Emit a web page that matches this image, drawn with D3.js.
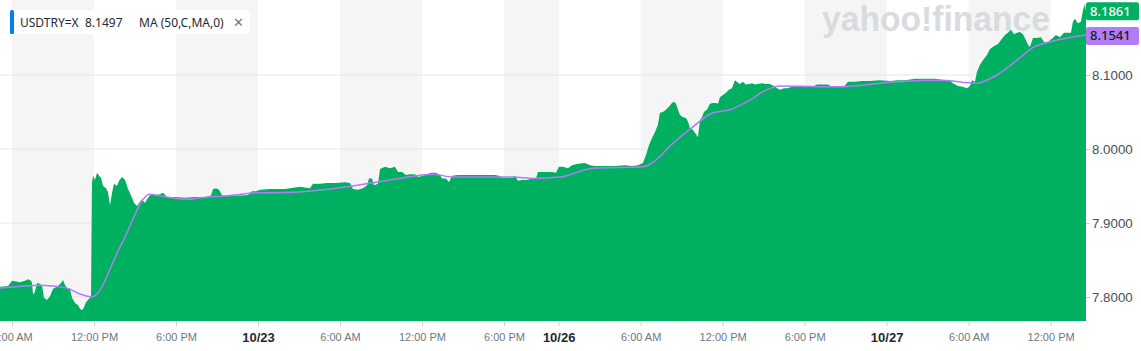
<!DOCTYPE html>
<html>
<head>
<meta charset="utf-8">
<script src="https://d3js.org/d3.v7.min.js"></script>
<style>
  body { margin: 0; background: #fff; }
  svg { display: block; font-family: "Noto Sans", "Open Sans", sans-serif; }
</style>
</head>
<body>
<svg id="chart" width="1141" height="351"></svg>
<script>
// trading hours counted from 10/22 6:00 AM (weekend gap removed)
const tickHours = [0, 6, 12, 18, 24, 30, 36, 40, 46, 52, 58, 64, 70, 76];
const tickLabels = ["6:00 AM", "12:00 PM", "6:00 PM", "10/23", "6:00 AM", "12:00 PM", "6:00 PM",
                    "10/26", "6:00 AM", "12:00 PM", "6:00 PM", "10/27", "6:00 AM", "12:00 PM"];
const dateLabels = ["10/23", "10/26", "10/27"];
const yTicks = [7.8, 7.9, 8.0, 8.1];

// [hour, price]
const price = [
  [-0.88,7.814],[-0.29,7.815],[0.00,7.822],[0.59,7.820],[0.95,7.822],[1.17,7.824],[1.39,7.822],[1.46,7.819],
  [1.54,7.803],[1.68,7.807],[1.83,7.819],[2.05,7.818],[2.20,7.815],[2.34,7.799],[2.56,7.796],[2.78,7.801],
  [3.00,7.811],[3.29,7.814],[3.59,7.819],[3.73,7.823],[3.88,7.816],[4.10,7.810],[4.24,7.811],[4.39,7.799],
  [4.61,7.792],[4.83,7.789],[4.98,7.784],[5.12,7.782],[5.27,7.786],[5.41,7.793],[5.56,7.796],[5.71,7.799],
  [5.78,7.801],[5.85,7.954],[5.93,7.964],[6.07,7.958],[6.22,7.968],[6.37,7.964],[6.51,7.961],[6.66,7.950],
  [6.88,7.947],[7.02,7.942],[7.17,7.924],[7.32,7.941],[7.46,7.953],[7.68,7.950],[7.83,7.957],[8.05,7.962],
  [8.27,7.958],[8.49,7.946],[8.71,7.937],[8.93,7.927],[9.15,7.923],[9.29,7.927],[9.51,7.932],[9.73,7.927],
  [9.95,7.934],[10.17,7.939],[10.46,7.938],[10.83,7.939],[11.05,7.941],[11.34,7.935],[11.93,7.935],[12.66,7.934],
  [13.39,7.935],[14.12,7.935],[14.56,7.937],[14.71,7.946],[14.93,7.947],[15.15,7.945],[15.37,7.937],[15.95,7.937],
  [16.68,7.937],[17.27,7.938],[17.56,7.943],[17.85,7.943],[18.15,7.945],[18.88,7.946],[19.61,7.946],[19.98,7.946],
  [20.34,7.947],[21.07,7.949],[21.80,7.947],[22.02,7.953],[22.54,7.953],[23.05,7.954],[23.63,7.954],[24.37,7.955],
  [24.73,7.954],[24.95,7.946],[25.32,7.945],[25.68,7.947],[25.98,7.951],[26.12,7.960],[26.34,7.960],[26.49,7.951],
  [26.78,7.953],[26.93,7.973],[27.29,7.976],[27.66,7.974],[28.02,7.976],[28.24,7.969],[28.54,7.969],[28.83,7.965],
  [29.12,7.966],[29.49,7.966],[29.71,7.962],[30.07,7.964],[30.37,7.966],[30.66,7.968],[31.02,7.968],[31.32,7.965],
  [31.46,7.960],[31.76,7.960],[31.98,7.955],[32.19,7.964],[32.63,7.965],[33.15,7.965],[33.66,7.965],[34.24,7.965],
  [34.83,7.965],[35.34,7.965],[35.63,7.964],[35.85,7.961],[36.29,7.961],[36.59,7.961],[36.81,7.964],[37.02,7.957],
  [37.32,7.958],[37.68,7.958],[38.05,7.960],[38.34,7.960],[38.49,7.969],[39.00,7.969],[39.51,7.969],[39.81,7.968],
  [40.02,7.976],[40.32,7.976],[40.68,7.974],[40.98,7.978],[41.41,7.980],[41.93,7.981],[42.29,7.978],[42.66,7.977],
  [43.39,7.977],[44.12,7.977],[44.85,7.978],[45.37,7.977],[45.80,7.978],[46.17,7.981],[46.39,7.992],[46.61,8.005],
  [46.83,8.015],[47.05,8.023],[47.27,8.033],[47.41,8.049],[47.63,8.050],[47.85,8.053],[48.07,8.057],[48.29,8.062],
  [48.44,8.064],[48.59,8.061],[48.73,8.053],[48.88,8.046],[49.10,8.043],[49.32,8.042],[49.46,8.037],[49.61,8.028],
  [49.83,8.026],[50.05,8.020],[50.19,8.016],[50.34,8.039],[50.49,8.043],[50.63,8.050],[50.85,8.053],[51.07,8.061],
  [51.29,8.062],[51.51,8.062],[51.66,8.061],[51.80,8.070],[52.02,8.073],[52.24,8.076],[52.46,8.080],[52.68,8.082],
  [52.90,8.093],[53.04,8.091],[53.26,8.088],[53.49,8.091],[53.70,8.087],[53.93,8.088],[54.15,8.089],[54.37,8.087],
  [54.59,8.088],[54.88,8.089],[55.17,8.088],[55.46,8.088],[55.76,8.085],[55.98,8.082],[56.19,8.080],[56.49,8.082],
  [56.71,8.082],[57.07,8.084],[57.66,8.084],[58.24,8.084],[58.61,8.084],[58.90,8.087],[59.27,8.087],[59.71,8.087],
  [60.00,8.084],[60.44,8.084],[60.88,8.084],[61.17,8.091],[61.68,8.091],[62.19,8.092],[62.78,8.092],[63.51,8.093],
  [64.24,8.092],[64.76,8.093],[65.34,8.093],[66.07,8.095],[66.80,8.095],[67.54,8.095],[68.27,8.093],[68.63,8.093],
  [68.85,8.089],[69.22,8.085],[69.58,8.084],[69.88,8.082],[70.10,8.085],[70.24,8.093],[70.46,8.091],[70.61,8.104],
  [70.83,8.114],[71.05,8.120],[71.34,8.127],[71.56,8.135],[71.85,8.139],[72.15,8.142],[72.44,8.149],[72.66,8.154],
  [72.88,8.157],[73.10,8.161],[73.32,8.155],[73.54,8.157],[73.76,8.158],[73.98,8.155],[74.20,8.147],[74.34,8.141],
  [74.49,8.138],[74.71,8.150],[75.00,8.150],[75.29,8.151],[75.51,8.145],[75.73,8.143],[75.95,8.147],[76.17,8.150],
  [76.39,8.154],[76.68,8.151],[76.98,8.157],[77.27,8.157],[77.49,8.157],[77.63,8.172],[77.78,8.176],[78.00,8.170],
  [78.22,8.172],[78.37,8.188],[78.51,8.196],[78.59,8.1861]
];

// moving average MA(50)
const ma = [
  [-0.88,7.812],[2.05,7.816],[4.02,7.812],[4.98,7.804],[5.85,7.800],[7.97,7.870],[10.10,7.939],[10.68,7.937],[12.80,7.932],
  [13.76,7.934],[15.95,7.937],[18.15,7.941],[19.61,7.941],[24.95,7.950],[27.29,7.957],[29.63,7.964],[30.80,7.966],
  [32.27,7.962],[36.66,7.962],[38.12,7.960],[40.10,7.962],[42.51,7.974],[46.17,7.976],[46.90,7.982],[48.37,8.008],
  [49.83,8.030],[51.29,8.049],[52.54,8.053],[53.78,8.064],[55.24,8.080],[56.19,8.085],[60.58,8.084],[64.76,8.091],
  [67.90,8.093],[70.61,8.089],[72.07,8.100],[73.54,8.120],[74.71,8.137],[75.95,8.145],[76.90,8.149],[78.59,8.1541]
];

const lastPrice = "8.1861", lastMA = "8.1541", legendPrice = "8.1497";

const svg = d3.select("#chart");
const plotW = 1086, plotH = 321;

const x = d3.scaleLinear().domain([-0.88, 78.59]).range([0, plotW]);
const y = d3.scaleLinear().domain([7.8, 8.1]).range([297, 75]);

// alternating background bands
const bands = tickHours.map((h, i) => [h, i < tickHours.length - 1 ? tickHours[i + 1] : 78.59]).filter((d, i) => i % 2 == 0);
svg.selectAll("rect.band").data(bands).join("rect")
   .attr("class", "band")
   .attr("x", d => x(d[0])).attr("width", d => x(d[1]) - x(d[0]))
   .attr("y", 0).attr("height", plotH)
   .attr("fill", "#f5f5f5");

// horizontal grid
svg.selectAll("line.grid").data(yTicks).join("line")
   .attr("class", "grid")
   .attr("x1", 0).attr("x2", plotW)
   .attr("y1", d => y(d)).attr("y2", d => y(d))
   .attr("stroke", "#e6e6e6");

// watermark
svg.append("text")
   .attr("x", 822).attr("y", 31)
   .attr("textLength", 228).attr("lengthAdjust", "spacingAndGlyphs")
   .attr("font-family", "Liberation Sans, sans-serif").attr("font-weight", 900)
   .attr("font-size", 35).attr("fill", "#d9dbdf")
   .text("yahoo!finance");

const area = d3.area().x(d => x(d[0])).y0(plotH).y1(d => y(d[1]));
svg.append("path").datum(price).attr("d", area).attr("fill", "#00b061");

const line = d3.line().x(d => x(d[0])).y(d => y(d[1])).curve(d3.curveMonotoneX);
svg.append("path").datum(ma).attr("d", line)
   .attr("fill", "none").attr("stroke", "#b17cf6").attr("stroke-width", 1.5);

// x axis
const xAxis = d3.axisBottom(x).tickValues(tickHours)
   .tickFormat((d, i) => tickLabels[i]).tickSize(5).tickPadding(7);
const gx = svg.append("g").attr("transform", `translate(0,${plotH})`).call(xAxis);
gx.select(".domain").remove();
gx.selectAll(".tick line").attr("stroke", "#d0d3d6");
gx.selectAll(".tick text")
   .attr("font-size", (d, i) => dateLabels.includes(tickLabels[i]) ? 13 : 11)
   .attr("fill", (d, i) => dateLabels.includes(tickLabels[i]) ? "#232a31" : "#6e7780")
   .attr("font-weight", (d, i) => dateLabels.includes(tickLabels[i]) ? 600 : "normal");

// y axis
const yAxis = d3.axisRight(y).tickValues(yTicks).tickFormat(d3.format(".4f")).tickSize(4).tickPadding(2);
const gy = svg.append("g").attr("transform", `translate(${plotW},0)`).call(yAxis);
gy.select(".domain").remove();
gy.selectAll(".tick line").attr("stroke", "#d0d3d6");
gy.selectAll(".tick text").attr("font-size", 13.3).attr("fill", "#464e56");

// last value tags
const tags = [
  {v: +lastPrice, text: lastPrice, bg: "#00b061", fg: "#fff"},
  {v: +lastMA, text: lastMA, bg: "#b17cf6", fg: "#1d1d1f"}
];
const tg = svg.selectAll("g.tag").data(tags).join("g").attr("class", "tag");
tg.append("rect")
   .attr("x", plotW).attr("y", (d, i) => i == 0 ? y(d.v) - 9 : y(d.v) - 8)
   .attr("width", 53).attr("height", 18).attr("rx", 2)
   .attr("fill", d => d.bg);
tg.append("text")
   .attr("x", plotW + 4).attr("y", (d, i) => (i == 0 ? y(d.v) - 9 : y(d.v) - 8) + 13.5)
   .attr("font-size", 13).attr("font-weight", 500)
   .attr("fill", d => d.fg).text(d => d.text);

// legend
const lg = svg.append("g").attr("transform", "translate(10,10)");
lg.append("rect").attr("width", 240).attr("height", 24).attr("rx", 3).attr("fill", "#fff");
lg.append("rect").attr("width", 4).attr("height", 24).attr("rx", 1.5).attr("fill", "#0081f2");
const legendItems = [
  {t: "USDTRY=X", x: 10}, {t: legendPrice, x: 75}, {t: "MA (50,C,MA,0)", x: 129}, {t: "\u2715", x: 223}
];
lg.selectAll("text").data(legendItems).join("text")
   .attr("x", d => d.x).attr("y", 17)
   .attr("font-size", d => d.t == "\u2715" ? 13 : 12)
   .attr("fill", d => d.t == "\u2715" ? "#6e7780" : "#232a31")
   .text(d => d.t);
</script>
</body>
</html>
